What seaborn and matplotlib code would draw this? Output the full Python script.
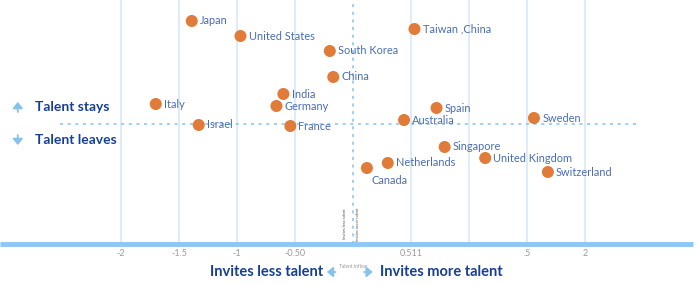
import pandas as pd
import matplotlib
matplotlib.use("Agg")
import matplotlib.pyplot as plt
import seaborn as sns

# talent inflow (x) vs talent retention (y)
countries = ["Japan", "United States", "South Korea", "China", "Taiwan ,China",
             "India", "Germany", "Italy", "Israel", "France", "Canada",
             "Spain", "Australia", "Sweden", "Singapore", "Netherlands",
             "United Kingdom", "Switzerland"]
inflow = [-1.39, -0.97, -0.20, -0.17, 0.53,
          -0.60, -0.66, -1.70, -1.33, -0.54, 0.12,
          0.72, 0.44, 1.56, 0.79, 0.30,
          1.14, 1.68]
retention = [1.03, 0.88, 0.73, 0.47, 0.95,
             0.30, 0.18, 0.20, -0.01, -0.02, -0.44,
             0.16, 0.04, 0.06, -0.23, -0.39,
             -0.34, -0.48]

grid_x = [-2, -1.5, -1, -0.5, 0.5, 1, 1.5, 2]
tick_pos = [-2, -1.5, -1, -0.5, 0.5, 1.5, 2]
tick_labels = ["-2", "-1.5", "-1", "-0.50", "0.511", ".5", "2"]

df = pd.DataFrame({"country": countries, "inflow": inflow, "retention": retention})

sns.set_theme(style="white")
plt.rcParams["font.family"] = ["Lato", "DejaVu Sans"]

LABEL = "#4a6cb3"
NAVY = "#173f93"
LIGHT = "#86c2ee"
GRID = "#d8e9f8"

fig = plt.figure(figsize=(6.99, 2.85), dpi=100)
ax = fig.add_axes([0, 0, 1, 1])
ax.set_xlim(-353 / 116, (699 - 353) / 116)
ax.set_ylim(-1.61, 1.24)
ax.axis("off")

bottom = -1.2
ax.vlines(grid_x, bottom, 1.24, color=GRID, lw=1.2, zorder=0)
ax.vlines(0, bottom, 1.24, color=LIGHT, lw=1.1, linestyles=(0, (2, 3)), zorder=1)
ax.hlines(0, -2.53, 2.47, color=LIGHT, lw=1.1, linestyles=(0, (2, 3)), zorder=1)
ax.hlines(bottom, ax.get_xlim()[0], 2.93, color="#8ec6f5", lw=3.5, zorder=2)

for p, t in zip(tick_pos, tick_labels):
    ax.text(p, -1.29, t, ha="center", va="center", fontsize=6.5, color="#9a9a9a")

sns.scatterplot(data=df, x="inflow", y="retention", ax=ax, color="#e07b39",
                s=75, edgecolor="none", zorder=5, legend=False)

for _, r in df.iterrows():
    if r["country"] == "Canada":
        ax.text(r["inflow"] + 0.04, r["retention"] - 0.12, r["country"],
                fontsize=7.9, color=LABEL, va="center", ha="left")
    else:
        ax.text(r["inflow"] + 0.07, r["retention"], r["country"],
                fontsize=7.9, color=LABEL, va="center", ha="left")


def small_arrow(x0, y0, x1, y1):
    ax.annotate("", xy=(x1, y1), xytext=(x0, y0),
                arrowprops=dict(arrowstyle="-|>,head_width=0.25,head_length=0.3",
                                color=LIGHT, lw=1.3, shrinkA=0, shrinkB=0))


# left annotations
small_arrow(-2.89, 0.12, -2.89, 0.22)
ax.text(-2.74, 0.17, "Talent stays", fontsize=10, color=NAVY, fontweight="bold",
        ha="left", va="center")
small_arrow(-2.89, -0.11, -2.89, -0.21)
ax.text(-2.74, -0.16, "Talent leaves", fontsize=10, color=NAVY, fontweight="bold",
        ha="left", va="center")

# bottom annotations
ax.text(-0.26, -1.48, "Invites less talent", fontsize=10.5, color=NAVY,
        fontweight="bold", ha="right", va="center")
small_arrow(-0.15, -1.48, -0.225, -1.48)
ax.text(0.0, -1.43, "Talent Inflow", fontsize=3.5, color="#999999",
        ha="center", va="center")
small_arrow(0.095, -1.48, 0.17, -1.48)
ax.text(0.23, -1.48, "Invites more talent", fontsize=10.5, color=NAVY,
        fontweight="bold", ha="left", va="center")

ax.text(-0.07, -1.0, "Invites less talent", fontsize=3, color="#555555",
        rotation=90, ha="center", va="center")
ax.text(0.04, -1.0, "Invites more talent", fontsize=3, color="#555555",
        rotation=90, ha="center", va="center")

fig.savefig("out.png", dpi=100)
